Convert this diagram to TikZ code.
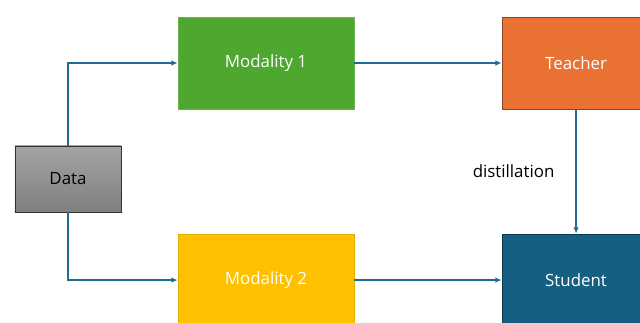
\documentclass[tikz,border=0pt]{standalone}
\usepackage{fontspec}
\setmainfont{Open Sans}
\usetikzlibrary{arrows.meta,positioning}

\definecolor{linkblue}{RGB}{31,108,148}
\definecolor{modgreen}{RGB}{78,167,46}
\definecolor{modyellow}{RGB}{255,192,0}
\definecolor{teachorange}{RGB}{233,113,50}
\definecolor{studblue}{RGB}{21,96,130}

\begin{document}
\begin{tikzpicture}
                [
                    x=0.025cm,
                    y=-0.025cm,
                    node distance=7.75cm,
                    font=\fontsize{12}{14}\selectfont,
                    box/.style={shape=rectangle, minimum width=4.4cm, minimum height=2.3cm, text=white},
                    data box/.style={box, minimum width=2.65cm, minimum height=1.65cm,
                        top color=black!36, bottom color=black!50, draw=black!80, text=black, line width=0.6pt},
                    modality one/.style={box, fill=modgreen, draw=modgreen!85!white, line width=0.5pt},
                    modality two/.style={box, fill=modyellow, draw=modyellow!90!black, line width=0.5pt},
                    teacher box/.style={box, minimum width=3.7cm, fill=teachorange, draw=teachorange!60!black, line width=0.6pt},
                    student box/.style={box, minimum width=3.7cm, fill=studblue, draw=studblue!60!black, line width=0.6pt},
                    link/.style={color=linkblue, line width=0.9pt, -{Latex[length=4.5pt,width=4pt]}},
                    row gap/.style={node distance=5.425cm}
                ]
                \useasboundingbox (0,0) rectangle (640,323);
                \clip (0,0) rectangle (640,323);

                \node (data)    [data box]     at (68,179)  {Data};
                \node (mod1)    [modality one] at (266,63)  {Modality 1};
                \node (mod2)    [modality two, below of=mod1, row gap] {Modality 2};
                \node (teacher) [teacher box, right of=mod1] {Teacher};
                \node (student) [student box, below of=teacher, row gap] {Student};

                \draw [link] (data) |- (mod1);
                \draw [link] (data) |- (mod2);

                \path
                (mod1) edge [link] (teacher)
                (mod2) edge [link] (student)
                (teacher) edge [link] node [left, text=black, inner sep=15pt] {distillation} (student)
                ;

            \end{tikzpicture}
\end{document}
